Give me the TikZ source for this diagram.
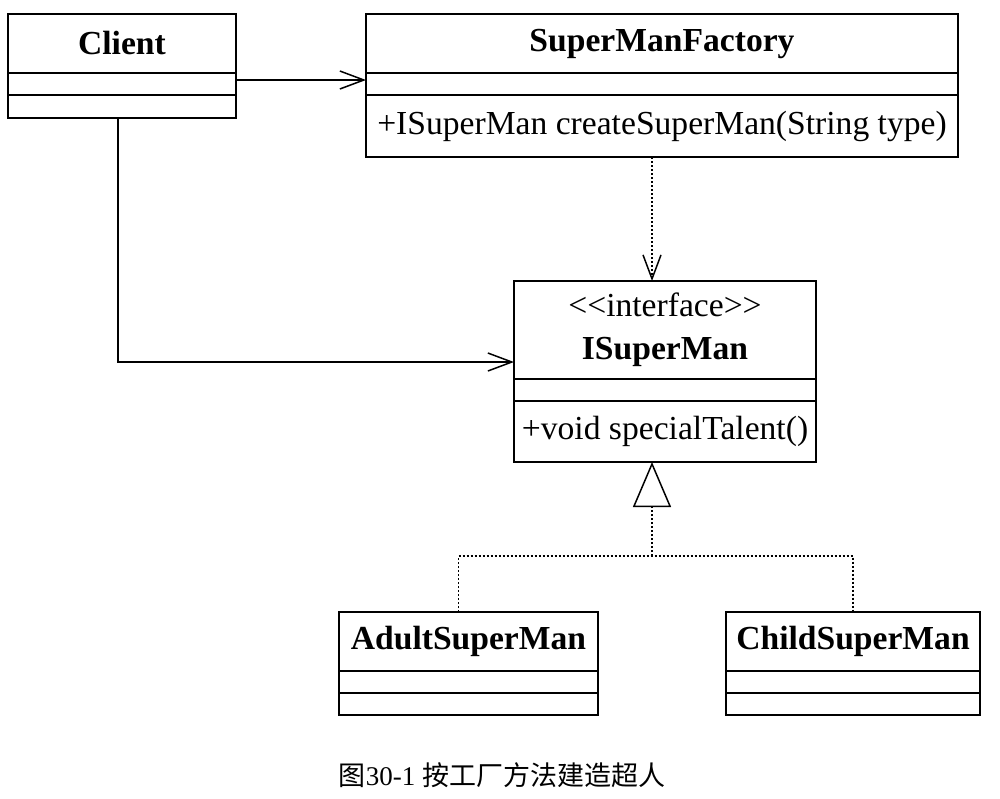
\documentclass[tikz,border=0pt]{standalone}
\usepackage{fontspec}
\setmainfont{Liberation Serif}
\newfontfamily\cjk{Noto Sans CJK SC}
\usetikzlibrary{arrows.meta, positioning}

\begin{document}
\begin{tikzpicture}[
    x=0.5pt, y=-0.5pt,
    cls/.style={rectangle, draw, line width=1.1pt, outer sep=0pt, inner sep=2pt, align=center, font=\fontsize{16.8}{21.5}\selectfont},
    cname/.style={cls, minimum height=29.5pt, font=\fontsize{16.8}{21.5}\selectfont\bfseries},
    cattr/.style={cls, minimum height=11pt},
    assoc/.style={-{Straight Barb[length=12pt, width=9pt]}, line width=0.75pt},
    depend/.style={assoc, dash pattern=on 1pt off 1pt},
    realize/.style={line width=0.75pt, dash pattern=on 1pt off 1pt}
]
\useasboundingbox (0,0) rectangle (1000,798);

% Client
\node[cname, minimum width=114pt, anchor=north west] (client) at (8,14) {Client};
\node[cattr, minimum width=114pt, below=0pt of client] (client-attr) {};
\node[cattr, minimum width=114pt, minimum height=11.5pt, below=0pt of client-attr] (client-ops) {};

% Factory
\node[cname, minimum width=296pt, anchor=north west] (fac) at (366,14) {SuperManFactory};
\node[cattr, minimum width=296pt, below=0pt of fac] (fac-attr) {};
\node[cls, minimum width=296pt, minimum height=31pt, below=0pt of fac-attr] (fac-ops) {+ISuperMan createSuperMan(String type)};

% Interface
\node[cls, minimum width=151pt, minimum height=49pt, anchor=north west] (isup) at (514,281) {<{}<interface>{}>\\\textbf{ISuperMan}};
\node[cattr, minimum width=151pt, below=0pt of isup] (isup-attr) {};
\node[cls, minimum width=151pt, minimum height=30.5pt, below=0pt of isup-attr] (isup-ops) {+void specialTalent()};

% Concrete classes
\node[cname, minimum width=129.5pt, anchor=north west] (adult) at (339,612) {AdultSuperMan};
\node[cattr, minimum width=129.5pt, below=0pt of adult] (adult-attr) {};
\node[cattr, minimum width=129.5pt, below=0pt of adult-attr] (adult-ops) {};
\node[cname, minimum width=127pt, anchor=north west] (child) at (726,612) {ChildSuperMan};
\node[cattr, minimum width=127pt, below=0pt of child] (child-attr) {};
\node[cattr, minimum width=127pt, below=0pt of child-attr] (child-ops) {};

% Caption
\node (caption) at (502,775) {\fontsize{13.5}{16}\selectfont{\cjk 图}30-1 {\cjk 按工厂方法建造超人}};

% Connectors
\coordinate (axis) at (652,556);
\coordinate (bend) at (118,362);
\draw[assoc] ([yshift=2pt]client-attr.east) -- ([yshift=2pt]fac-attr.west);
\draw[assoc] (client-ops.south -| bend) |- (isup.west |- bend);
\draw[depend] (fac-ops.south -| axis) -- (isup.north -| axis);
\draw[realize] ([xshift=-5pt]adult.north) |- (axis) -| (child.north);
\draw[realize, -{Triangle[open, length=22.5pt, width=19pt, fill=white]}] (axis) -- (isup-ops.south -| axis);

\end{tikzpicture}
\end{document}
